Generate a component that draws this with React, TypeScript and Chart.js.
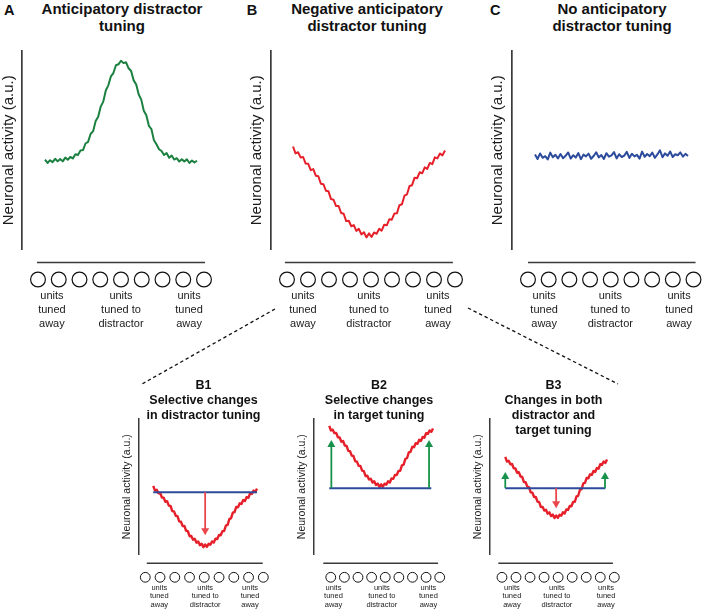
import React, { useEffect, useRef } from "react";
import { Chart, registerables } from "chart.js";

Chart.register(...registerables);

const FONT = '"Liberation Sans", Arial, Helvetica, sans-serif';

// ---------------- data ----------------
const UNIT_COUNT = 9;
const UNIT_LABELS: string[][] = [
  ["units", "tuned", "away"],
  ["units", "tuned to", "distractor"],
  ["units", "tuned", "away"],
];
const Y_TITLE = "Neuronal activity (a.u.)";

// Panel A: anticipatory distractor tuning (a.u.)
const ANTICIPATORY_TUNING = [
  45.3, 43.6, 45.0, 44.0, 45.7, 44.4, 45.6, 44.4, 46.3, 45.2,
  46.6, 45.9, 48.0, 47.6, 49.9, 50.1, 53.4, 54.2, 58.2, 59.6,
  64.7, 66.9, 72.0, 74.5, 80.1, 82.7, 87.2, 88.9, 92.8, 93.3,
  95.1, 93.9, 94.3, 91.3, 89.9, 85.2, 83.1, 78.1, 75.5, 69.9,
  67.6, 62.3, 60.7, 55.0, 53.0, 50.5, 49.6, 47.6, 48.6, 46.2,
  47.3, 45.3, 46.0, 44.3, 45.5, 44.3, 45.4, 43.6, 44.8, 43.9,
  44.7,
];

// Panel B (and B1-B3): negative anticipatory distractor tuning (a.u.)
const NEGATIVE_TUNING = [
  51.9, 48.4, 49.0, 46.4, 46.6, 43.3, 43.2, 40.0, 40.5, 37.2,
  36.9, 33.1, 32.9, 29.6, 29.3, 25.4, 25.1, 21.9, 21.9, 18.4,
  18.0, 14.3, 14.5, 11.7, 12.3, 9.4, 10.4, 7.6, 8.7, 6.1,
  8.1, 6.3, 8.6, 7.9, 10.4, 9.5, 12.5, 12.2, 15.2, 15.0,
  18.1, 18.2, 22.3, 22.8, 27.1, 27.8, 32.0, 32.4, 36.2, 35.9,
  38.9, 38.4, 41.4, 40.6, 43.6, 43.0, 46.4, 45.9, 48.4, 47.4,
  49.9,
];

// Panel C: no anticipatory distractor tuning (a.u.)
const NO_TUNING = [
  47.9, 45.6, 48.4, 46.2, 47.0, 45.4, 48.8, 46.5, 47.7, 45.9,
  48.1, 46.0, 47.2, 48.9, 45.8, 47.5, 46.3, 48.6, 45.5, 47.8,
  46.9, 48.3, 45.7, 47.1, 49.0, 46.4, 47.6, 45.6, 48.5, 46.8,
  47.4, 49.1, 45.9, 48.0, 46.6, 47.3, 49.2, 46.1, 48.2, 46.9,
  47.7, 45.8, 49.3, 46.7, 48.1, 47.0, 48.8, 46.2, 47.9, 50.0,
  46.5, 48.4, 47.2, 49.4, 46.6, 48.0, 47.5, 48.9, 46.8, 48.2,
  47.1,
];

// Baselines (blue lines) and change arrows in the B1-B3 panels (a.u.)
const B1_BASELINE = 47.25;
const B2_BASELINE = 5.25;
const B3_BASELINE = 28.5;
const B1_ARROW_AT = [30];
const B1_ARROW_TO = [15];
const B2_ARROW_AT = [1.2, 57.7];
const B2_ARROW_TO = [41.25, 41.25];
const B3_UP_AT = [0, 58.8];
const B3_UP_TO = [40.5, 40.5];
const B3_DOWN_AT = [30];
const B3_DOWN_TO = [13.5];

// ---------------- styles / layout ----------------
const GREEN = "#1b8040";
const RED = "#e5202a";
const BLUE = "#2d4b9c";
const ARROW_RED = "#e8474c";
const ARROW_GREEN = "#17924a";
const AXIS = "#3a3a3a";
const TEXT = "#1a1a1a";

type Arrow = { at: number; from: number; to: number; color: string };

const TOP_STYLE = {
  lineOffset: 13, circleOffset: 30, circleR: 7.4, tickLength: 39.5, tickSize: 11, tickLH: 14,
  yTitleSize: 15, axisWidth: 1.7, circleWidth: 1.2, curveWidth: 2, arrowWidth: 2, headW: 8, headL: 7,
};
const BOTTOM_STYLE = {
  lineOffset: 9, circleOffset: 23, circleR: 4.9, tickLength: 29.2, tickSize: 7.5, tickLH: 8.5,
  yTitleSize: 10.5, axisWidth: 1.5, circleWidth: 1, curveWidth: 2.4, arrowWidth: 1.8, headW: 8, headL: 7,
};

type Spec = {
  key: string;
  area: { l: number; t: number; r: number; b: number };
  yLabelX: number;
  curve: [number, number];
  units: [number, number];
  tickPos: number[];
  axisLine: [number, number];
  yRange: [number, number];
  series: number[];
  color: string;
  baseline?: { value: number; span: [number, number] };
  arrows?: Arrow[];
  style: typeof TOP_STYLE;
};

const mk = (at: number[], to: number[], from: number, color: string): Arrow[] =>
  at.map((a, i) => ({ at: a, from, to: to[i], color }));

const PANELS: Spec[] = [
  { key: "A", area: { l: 22, t: 51, r: 214, b: 249 }, yLabelX: 9, curve: [45, 197], units: [38, 204],
    tickPos: [0.67, 4, 7.28], axisLine: [-0.05, 8.05], yRange: [0, 100], series: ANTICIPATORY_TUNING,
    color: GREEN, style: TOP_STYLE },
  { key: "B", area: { l: 271, t: 51, r: 466, b: 249 }, yLabelX: 257, curve: [293, 445], units: [287, 455],
    tickPos: [0.76, 3.9, 7.19], axisLine: [-0.1, 7.9], yRange: [0, 100], series: NEGATIVE_TUNING,
    color: RED, style: TOP_STYLE },
  { key: "C", area: { l: 512, t: 51, r: 701, b: 249 }, yLabelX: 498, curve: [535, 688], units: [528, 693.5],
    tickPos: [0.78, 3.98, 7.3], axisLine: [0, 8.1], yRange: [0, 100], series: NO_TUNING,
    color: BLUE, style: TOP_STYLE },
  { key: "B1", area: { l: 138, t: 419, r: 272, b: 554 }, yLabelX: 127, curve: [153, 257], units: [145, 263.3],
    tickPos: [0.95, 4.06, 7.1], axisLine: [0.1, 7.96], yRange: [0.75, 102], series: NEGATIVE_TUNING,
    color: RED, style: BOTTOM_STYLE, baseline: { value: B1_BASELINE, span: [0, 60] },
    arrows: mk(B1_ARROW_AT, B1_ARROW_TO, B1_BASELINE, ARROW_RED) },
  { key: "B2", area: { l: 313, t: 419, r: 449, b: 554 }, yLabelX: 302, curve: [329, 433], units: [330.5, 439.7],
    tickPos: [0.2, 3.75, 7.17], axisLine: [-0.55, 7.88], yRange: [-44.25, 57], series: NEGATIVE_TUNING,
    color: RED, style: BOTTOM_STYLE, baseline: { value: B2_BASELINE, span: [0, 59] },
    arrows: mk(B2_ARROW_AT, B2_ARROW_TO, B2_BASELINE, ARROW_GREEN) },
  { key: "B3", area: { l: 489, t: 419, r: 624, b: 554 }, yLabelX: 478, curve: [505, 607], units: [501.7, 614.3],
    tickPos: [0.71, 3.91, 7.41], axisLine: [-0.26, 7.9], yRange: [-21, 80.25], series: NEGATIVE_TUNING,
    color: RED, style: BOTTOM_STYLE, baseline: { value: B3_BASELINE, span: [0, 59] },
    arrows: [...mk(B3_UP_AT, B3_UP_TO, B3_BASELINE, ARROW_GREEN), ...mk(B3_DOWN_AT, B3_DOWN_TO, B3_BASELINE, ARROW_RED)] },
];

function geometry(spec: Spec) {
  const s = spec.style;
  const lhT = s.yTitleSize * 1.2;
  const left = spec.yLabelX - lhT / 2 - 2;
  const top = spec.area.t - 4;
  const width = spec.area.r + 8 - left;
  const height = spec.area.b + s.tickLength + 3 * s.tickLH + 6 - top;
  return { left, top, width, height, lhT };
}

function buildConfig(spec: Spec): any {
  const s = spec.style;
  const g = geometry(spec);
  const { l, r } = spec.area;
  const n = spec.series.length - 1;
  const cw = spec.curve[1] - spec.curve[0];
  const xMin = (-(spec.curve[0] - l) / cw) * n;
  const xMax = n + ((r - spec.curve[1]) / cw) * n;
  const sp = (spec.units[1] - spec.units[0]) / (UNIT_COUNT - 1);
  const uMin = -(spec.units[0] - l) / sp;
  const uMax = UNIT_COUNT - 1 + (r - spec.units[1]) / sp;

  const datasets: any[] = [];
  if (spec.baseline) {
    datasets.push({
      data: spec.baseline.span.map((x) => ({ x, y: spec.baseline!.value })),
      borderColor: BLUE, borderWidth: 2, pointRadius: 0, fill: false, xAxisID: "x", yAxisID: "y",
    });
  }
  datasets.push({
    data: spec.series.map((y, i) => ({ x: i, y })),
    borderColor: spec.color, borderWidth: s.curveWidth, pointRadius: 0, fill: false,
    borderJoinStyle: "round", tension: 0, xAxisID: "x", yAxisID: "y",
  });

  const unitRow = {
    id: "unitRow" + spec.key,
    afterDraw(chart: any) {
      const xu = chart.scales.xu;
      const { bottom } = chart.chartArea;
      const ctx = chart.ctx;
      ctx.save();
      ctx.strokeStyle = AXIS;
      ctx.lineWidth = s.axisWidth;
      const ly = bottom + s.lineOffset;
      ctx.beginPath();
      ctx.moveTo(xu.getPixelForValue(spec.axisLine[0]), ly);
      ctx.lineTo(xu.getPixelForValue(spec.axisLine[1]), ly);
      ctx.stroke();
      ctx.lineWidth = s.circleWidth;
      ctx.strokeStyle = "#111";
      ctx.fillStyle = "#fff";
      const cy = bottom + s.circleOffset;
      for (let i = 0; i < UNIT_COUNT; i++) {
        ctx.beginPath();
        ctx.arc(xu.getPixelForValue(i), cy, s.circleR, 0, Math.PI * 2);
        ctx.fill();
        ctx.stroke();
      }
      ctx.restore();
    },
  };

  const arrows = {
    id: "arrows" + spec.key,
    afterDatasetsDraw(chart: any) {
      if (!spec.arrows) return;
      const xs = chart.scales.x;
      const ys = chart.scales.y;
      const ctx = chart.ctx;
      ctx.save();
      for (const a of spec.arrows) {
        const px = xs.getPixelForValue(a.at);
        const y1 = ys.getPixelForValue(a.from);
        const y2 = ys.getPixelForValue(a.to);
        const dir = Math.sign(y2 - y1);
        ctx.strokeStyle = a.color;
        ctx.fillStyle = a.color;
        ctx.lineWidth = s.arrowWidth;
        ctx.beginPath();
        ctx.moveTo(px, y1);
        ctx.lineTo(px, y2 - dir * s.headL * 0.7);
        ctx.stroke();
        ctx.beginPath();
        ctx.moveTo(px, y2);
        ctx.lineTo(px - s.headW / 2, y2 - dir * s.headL);
        ctx.lineTo(px + s.headW / 2, y2 - dir * s.headL);
        ctx.closePath();
        ctx.fill();
      }
      ctx.restore();
    },
  };

  return {
    type: "line",
    data: { datasets },
    plugins: [unitRow, arrows],
    options: {
      responsive: false,
      maintainAspectRatio: false,
      animation: false,
      events: [],
      devicePixelRatio: 1,
      layout: { autoPadding: false, padding: { left: 2, top: 4, right: 8, bottom: 6 } },
      plugins: { legend: { display: false }, tooltip: { enabled: false }, title: { display: false } },
      scales: {
        x: { type: "linear", display: false, min: xMin, max: xMax },
        xu: {
          type: "linear", position: "bottom", min: uMin, max: uMax,
          afterBuildTicks: (axis: any) => { axis.ticks = spec.tickPos.map((v) => ({ value: v })); },
          ticks: {
            autoSkip: false, maxRotation: 0, minRotation: 0, padding: 0, color: TEXT,
            font: { family: FONT, size: s.tickSize, lineHeight: s.tickLH / s.tickSize },
            callback: (_v: any, i: number) => UNIT_LABELS[i],
          },
          grid: { display: false, drawTicks: true, tickLength: s.tickLength },
          border: { display: false },
        },
        y: {
          type: "linear", position: "left", min: spec.yRange[0], max: spec.yRange[1],
          ticks: { display: false },
          grid: { display: false, drawTicks: false },
          border: { display: true, color: AXIS, width: s.axisWidth },
          title: {
            display: true, text: Y_TITLE, color: TEXT,
            font: { family: FONT, size: s.yTitleSize, lineHeight: 1.2 },
            padding: { top: 0, bottom: spec.area.l - (spec.yLabelX + g.lhT / 2) },
          },
        },
      },
    },
  };
}

function Panel({ spec }: { spec: Spec }) {
  const ref = useRef<HTMLCanvasElement>(null);
  const g = geometry(spec);
  useEffect(() => {
    if (!ref.current) return;
    const chart = new Chart(ref.current, buildConfig(spec));
    return () => chart.destroy();
  }, [spec]);
  return (
    <canvas
      ref={ref}
      width={Math.round(g.width)}
      height={Math.round(g.height)}
      style={{ position: "absolute", left: g.left, top: g.top, width: Math.round(g.width), height: Math.round(g.height) }}
    />
  );
}

const LETTERS = [
  { text: "A", x: 9.2 },
  { text: "B", x: 252 },
  { text: "C", x: 495.3 },
];
const TOP_TITLES = [
  { lines: ["Anticipatory distractor", "tuning"], x: 122 },
  { lines: ["Negative anticipatory", "distractor tuning"], x: 367 },
  { lines: ["No anticipatory", "distractor tuning"], x: 612 },
];
const BOTTOM_TITLES = [
  { lines: ["B1", "Selective changes", "in distractor tuning"], x: 203.5 },
  { lines: ["B2", "Selective changes", "in target tuning"], x: 379 },
  { lines: ["B3", "Changes in both", "distractor and", "target tuning"], x: 553.5 },
];

export default function App() {
  useEffect(() => {
    document.body.style.overflow = "hidden";
  }, []);
  return (
    <div
      style={{
        position: "absolute", left: 0, top: 0, width: 702, height: 610, background: "#fff",
        overflow: "hidden", fontFamily: FONT, color: "#111",
      }}
    >
      <svg width={702} height={610} style={{ position: "absolute", left: 0, top: 0 }}>
        <line x1={275} y1={309} x2={142} y2={384} stroke="#111" strokeWidth={1.3} strokeDasharray="3.4 2.8" />
        <line x1={468} y1={308} x2={618} y2={384} stroke="#111" strokeWidth={1.3} strokeDasharray="3.4 2.8" />
      </svg>
      {PANELS.map((p) => (
        <Panel key={p.key} spec={p} />
      ))}
      {LETTERS.map((l) => (
        <div
          key={l.text}
          style={{
            position: "absolute", left: l.x - 15, width: 30, top: 2, textAlign: "center",
            fontWeight: "bold", fontSize: 14.5, lineHeight: "16px",
          }}
        >
          {l.text}
        </div>
      ))}
      {TOP_TITLES.map((t) => (
        <div
          key={t.lines[0]}
          style={{
            position: "absolute", left: t.x - 120, width: 240, top: 0, textAlign: "center",
            fontWeight: "bold", fontSize: 15, lineHeight: "17px", whiteSpace: "nowrap",
          }}
        >
          {t.lines.map((ln) => (
            <div key={ln}>{ln}</div>
          ))}
        </div>
      ))}
      {BOTTOM_TITLES.map((t) => (
        <div
          key={t.lines[0]}
          style={{
            position: "absolute", left: t.x - 80, width: 160, top: 377.5, textAlign: "center",
            fontWeight: "bold", fontSize: 12.5, lineHeight: "15px", whiteSpace: "nowrap",
          }}
        >
          {t.lines.map((ln) => (
            <div key={ln}>{ln}</div>
          ))}
        </div>
      ))}
    </div>
  );
}
